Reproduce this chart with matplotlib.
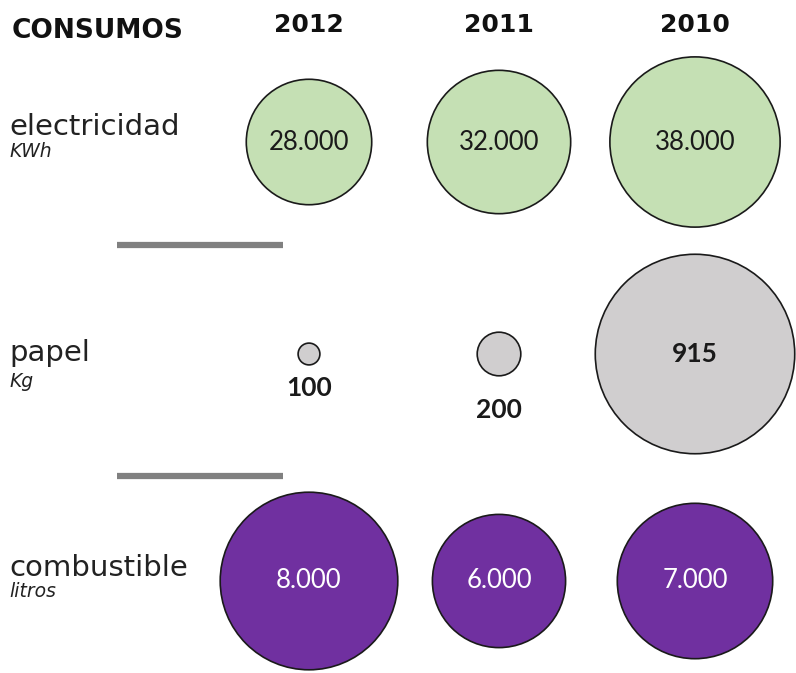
import matplotlib
matplotlib.use("Agg")
import matplotlib.pyplot as plt
from matplotlib.patches import Circle

# ---- data ----
title = "CONSUMOS"
years = ["2012", "2011", "2010"]
row_names = ["electricidad", "papel", "combustible"]
row_units = ["KWh", "Kg", "litros"]
electricidad = [28000, 32000, 38000]
papel = [100, 200, 915]
combustible = [8000, 6000, 7000]

# ---- style / layout ----
W, H = 796, 673
col_x = [309, 499, 695]
row_y = [142, 354, 581]
label_y = [135, 361, 576]
unit_y = [157, 387, 597]
radius_scale = [2.24e-3, 0.109, 11.1e-3]
fills = ["#c5e0b4", "#d0cecf", "#7030a0"]
text_cols = ["#1a1a1a", "#1a1a1a", "#ffffff"]
edge = "#1a1a1a"

def fmt(v):
    return f"{v:,}".replace(",", ".")

fig = plt.figure(figsize=(W / 100, H / 100), dpi=100)
ax = fig.add_axes([0, 0, 1, 1])
ax.set_xlim(0, W)
ax.set_ylim(H, 0)
ax.set_aspect("equal")
ax.axis("off")

# header
ax.text(12, 31, title, fontsize=19, fontweight="bold", family="DejaVu Sans",
        ha="left", va="center", color="#111111")
for x, y in zip(col_x, years):
    ax.text(x, 25, y, fontsize=18, fontweight="bold", family="DejaVu Sans",
            ha="center", va="center", color="#111111")

# row labels
for name, unit, ly, uy in zip(row_names, row_units, label_y, unit_y):
    ax.text(9, ly, name, fontsize=21, family="DejaVu Sans",
            ha="left", va="baseline", color="#222222")
    ax.text(9, uy, unit, fontsize=13.5, family="DejaVu Sans", style="italic",
            ha="left", va="baseline", color="#222222")

# separators
for y in [245, 476]:
    ax.plot([117, 283], [y, y], color="#808080", lw=4.5, solid_capstyle="butt")

# circles
series = [electricidad, papel, combustible]
for ri, vals in enumerate(series):
    cy = row_y[ri]
    for ci, v in enumerate(vals):
        cx = col_x[ci]
        r = radius_scale[ri] * v
        ax.add_patch(Circle((cx, cy), r, facecolor=fills[ri], edgecolor=edge, lw=1.2))
        bold = (ri == 1)
        if r < 40:
            ty = cy + r + 12 + r
            ax.text(cx, ty, fmt(v), fontsize=19, fontweight="bold", family="Lato",
                    ha="center", va="center", color=text_cols[ri])
        else:
            ax.text(cx, cy, fmt(v), fontsize=18.5 if not bold else 19,
                    fontweight="bold" if bold else "normal", family="Lato",
                    ha="center", va="center", color=text_cols[ri])

fig.savefig("out.png", dpi=100)
